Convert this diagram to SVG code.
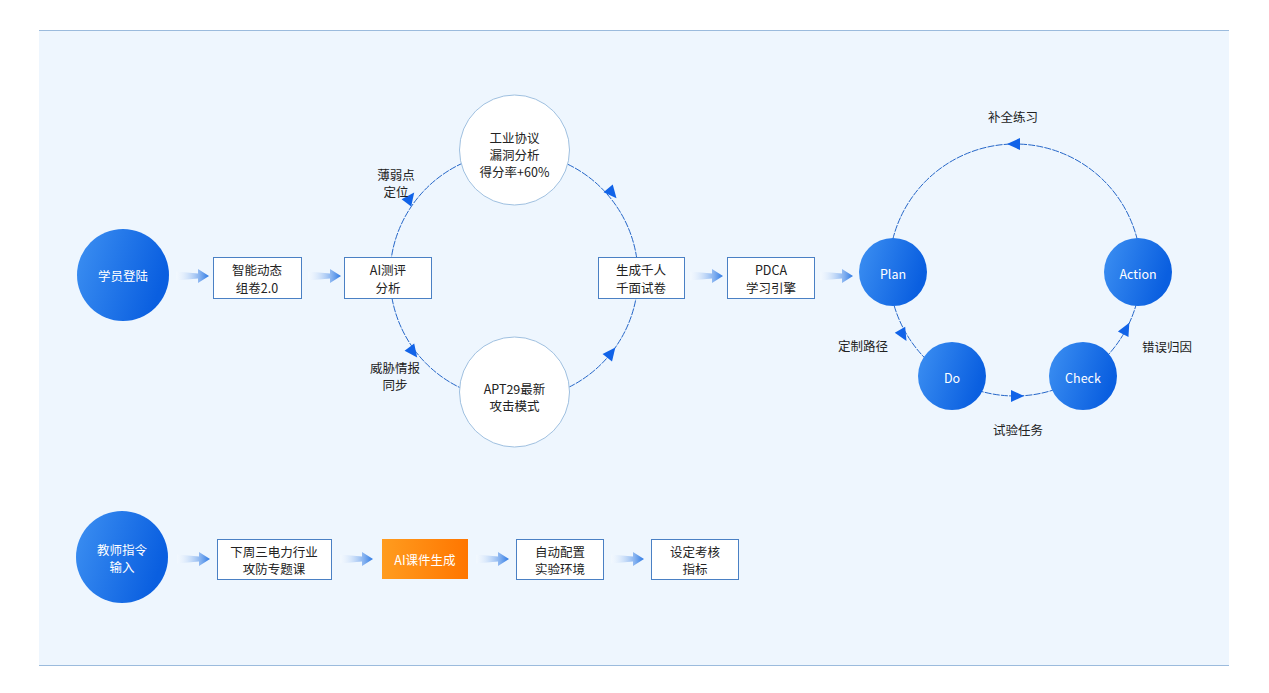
<svg xmlns="http://www.w3.org/2000/svg" width="1269" height="693" viewBox="0 0 1269 693">
<defs>
<linearGradient id="gBlue" x1="0" y1="0" x2="1" y2="0.3">
<stop offset="0" stop-color="#3D90F2"/>
<stop offset="1" stop-color="#0A5FE0"/>
</linearGradient>
<linearGradient id="gOrange" x1="0" y1="0" x2="1" y2="0">
<stop offset="0" stop-color="#FF9C1F"/>
<stop offset="1" stop-color="#FF7600"/>
</linearGradient>
<linearGradient id="gArrow" x1="0" y1="0" x2="1" y2="0">
<stop offset="0" stop-color="#FFFFFF" stop-opacity="0.2"/>
<stop offset="1" stop-color="#2B78E4"/>
</linearGradient>
<polygon id="fat" points="0,-4.5 22,-2.5 22,-7 33,0 22,7 22,2.5 0,4.5" fill="url(#gArrow)"/>
<polygon id="ah" points="7,0 -6,-6 -6,6" fill="#1163E8"/>
</defs>
<style>
text{font-family:"Noto Sans CJK SC","Noto Sans",sans-serif;font-size:12.5px;fill:#222;text-anchor:middle;dominant-baseline:central}
.w{fill:#FFFFFF}
.box{fill:#FFFFFF;stroke:#4A80C4;stroke-width:1}
.wn{fill:#FFFFFF;stroke:#9FC0E0;stroke-width:1}
.bn{fill:url(#gBlue)}
.arc{fill:none;stroke:#2566C8;stroke-width:1;stroke-dasharray:7 1.2}
</style>
<rect x="0" y="0" width="1269" height="693" fill="#FFFFFF"/>
<rect x="39" y="30" width="1190" height="636" fill="#EEF6FE"/>
<line x1="39" y1="30.5" x2="1229" y2="30.5" stroke="#9BBBDD" stroke-width="1"/>
<line x1="39" y1="665.5" x2="1229" y2="665.5" stroke="#9BBBDD" stroke-width="1"/>

<g id="connectors">
<circle class="arc" cx="514" cy="276" r="124"/>
<circle class="arc" cx="1015" cy="270" r="126"/>
<use href="#ah" transform="translate(410,198) rotate(-53)"/>
<use href="#ah" transform="translate(612,193) rotate(50)"/>
<use href="#ah" transform="translate(413,352) rotate(53)"/>
<use href="#ah" transform="translate(611,353) rotate(-52)"/>
<use href="#ah" transform="translate(1014,144) rotate(180)"/>
<use href="#ah" transform="translate(903,335) rotate(60)"/>
<use href="#ah" transform="translate(1017,396) rotate(0)"/>
<use href="#ah" transform="translate(1126,329) rotate(-62)"/>
<use href="#fat" transform="translate(176,276)"/>
<use href="#fat" transform="translate(308,276)"/>
<use href="#fat" transform="translate(690,276)"/>
<use href="#fat" transform="translate(820,276)"/>
<use href="#fat" transform="translate(177,559)"/>
<use href="#fat" transform="translate(340,559)"/>
<use href="#fat" transform="translate(476,559)"/>
<use href="#fat" transform="translate(611,559)"/>
<text x="396" y="174">薄弱点</text>
<text x="396" y="191">定位</text>
<text x="395" y="367">威胁情报</text>
<text x="395" y="384">同步</text>
<text x="1013" y="116">补全练习</text>
<text x="863" y="345">定制路径</text>
<text x="1018" y="429">试验任务</text>
<text x="1167" y="346">错误归因</text>
</g>

<g id="n-student"><circle class="bn" cx="123" cy="275" r="46"/><text class="w" x="123" y="275">学员登陆</text></g>
<g id="n-compose"><rect class="box" x="213.5" y="257.5" width="88" height="41"/><text x="257" y="269.5">智能动态</text><text x="257" y="287">组卷2.0</text></g>
<g id="n-ai-eval"><rect class="box" x="344.5" y="257.5" width="87" height="41"/><text x="388" y="269.5">AI测评</text><text x="388" y="287">分析</text></g>
<g id="n-industrial"><circle class="wn" cx="514.5" cy="150" r="55"/><text x="514.5" y="137">工业协议</text><text x="514.5" y="154">漏洞分析</text><text x="514.5" y="171">得分率+60%</text></g>
<g id="n-apt"><circle class="wn" cx="514.5" cy="392" r="55"/><text x="514.5" y="388">APT29最新</text><text x="514.5" y="405">攻击模式</text></g>
<g id="n-gen"><rect class="box" x="598.5" y="257.5" width="86" height="41"/><text x="641" y="269.5">生成千人</text><text x="641" y="287">千面试卷</text></g>
<g id="n-pdca"><rect class="box" x="727.5" y="257.5" width="87" height="41"/><text x="771" y="269.5">PDCA</text><text x="771" y="287">学习引擎</text></g>
<g id="n-plan"><circle class="bn" cx="893" cy="272" r="34"/><text class="w" x="893" y="273">Plan</text></g>
<g id="n-action"><circle class="bn" cx="1138" cy="272" r="34"/><text class="w" x="1138" y="273">Action</text></g>
<g id="n-do"><circle class="bn" cx="952" cy="376" r="34"/><text class="w" x="952" y="377">Do</text></g>
<g id="n-check"><circle class="bn" cx="1083" cy="376" r="34"/><text class="w" x="1083" y="377">Check</text></g>

<g id="n-teacher"><circle class="bn" cx="122" cy="557" r="46"/><text class="w" x="122" y="549">教师指令</text><text class="w" x="122" y="566">输入</text></g>
<g id="n-course"><rect class="box" x="217.5" y="539.5" width="114" height="40"/><text x="274" y="551">下周三电力行业</text><text x="274" y="568">攻防专题课</text></g>
<g id="n-ai-course"><rect x="382" y="539" width="86" height="40" fill="url(#gOrange)"/><text class="w" x="425" y="559">AI课件生成</text></g>
<g id="n-env"><rect class="box" x="516.5" y="539.5" width="87" height="40"/><text x="560" y="551">自动配置</text><text x="560" y="568">实验环境</text></g>
<g id="n-metric"><rect class="box" x="651.5" y="539.5" width="87" height="40"/><text x="695" y="551">设定考核</text><text x="695" y="568">指标</text></g>
</svg>
